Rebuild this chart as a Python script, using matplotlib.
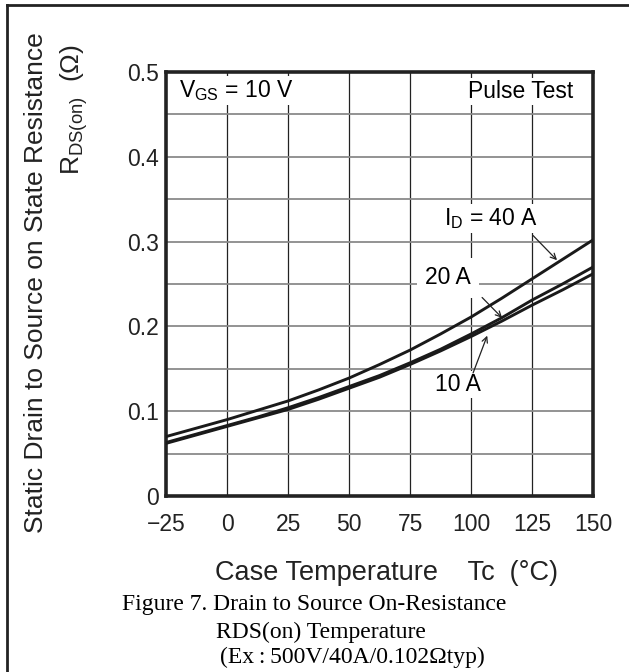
import matplotlib
matplotlib.use('Agg')
import matplotlib.pyplot as plt

plt.rcParams['font.family'] = ['Liberation Sans', 'DejaVu Sans']
plt.rcParams['mathtext.fontset'] = 'custom'
plt.rcParams['mathtext.rm'] = 'Liberation Sans'
plt.rcParams['mathtext.it'] = 'Liberation Sans:italic'

# Data (case temperature in degC, RDS(on) in ohm)
temp = [-25, -12.5, 0, 12.5, 25, 37.5, 50, 62.5, 75, 87.5, 100, 112.5, 125, 137.5, 150]
rds_40a = [0.070, 0.080, 0.090, 0.101, 0.112, 0.125, 0.139, 0.155, 0.172, 0.191,
           0.211, 0.233, 0.256, 0.279, 0.302]
rds_20a = [0.063, 0.073, 0.083, 0.093, 0.104, 0.116, 0.129, 0.142, 0.157, 0.173,
           0.191, 0.210, 0.231, 0.250, 0.270]
rds_10a = [0.062, 0.072, 0.082, 0.092, 0.102, 0.114, 0.127, 0.140, 0.155, 0.171,
           0.188, 0.206, 0.225, 0.243, 0.262]

x_ticks = [-25, 0, 25, 50, 75, 100, 125, 150]
y_ticks = [0, 0.1, 0.2, 0.3, 0.4, 0.5]
y_tick_labels = ['0', '0.1', '0.2', '0.3', '0.4', '0.5']

fig = plt.figure(figsize=(6.29, 6.72), dpi=100)

# outer frame (left and top edges only, as in the cropped datasheet)
fig.add_artist(plt.Line2D([0.011, 0.011], [0, 0.993], color='#222222', lw=2.0, transform=fig.transFigure))
fig.add_artist(plt.Line2D([0.011, 1.0], [0.993, 0.993], color='#222222', lw=2.0, transform=fig.transFigure))

ax = fig.add_axes([0.264, 0.262, 0.679, 0.631])
ax.set_xlim(-25, 150)
ax.set_ylim(0, 0.5)

# grid: dark vertical lines, lighter horizontal lines every 0.05
for xv in x_ticks[1:-1]:
    ax.axvline(xv, color='#222222', lw=0.9, zorder=1)
for k in range(1, 10):
    ax.axhline(k * 0.05, color='#8a8a8a', lw=1.3, zorder=1)

for ys in (rds_40a, rds_20a, rds_10a):
    ax.plot(temp, ys, color='#1a1a1a', lw=2.1, zorder=3)

for s in ax.spines.values():
    s.set_linewidth(2.6)
    s.set_color('#222222')

ax.set_xticks(x_ticks)
ax.set_yticks(y_ticks)
ax.set_yticklabels(y_tick_labels)
ax.tick_params(length=0, labelsize=16.5, colors='#222222')
ax.tick_params(axis='y', pad=5)
ax.tick_params(axis='x', pad=12)

fs = 16.5
box = dict(facecolor='white', edgecolor='none', pad=1.5)
ax.text(-19.5, 0.478, r'$\mathregular{V_{GS}}$ = 10 V', fontsize=fs, ha='left', va='center', bbox=box, zorder=4)
ax.text(142, 0.477, 'Pulse Test', fontsize=fs, ha='right', va='center', bbox=box, zorder=4)
ax.text(108.2, 0.327, r'$\mathregular{I_D}$ = 40 A', fontsize=fs, ha='center', va='center', bbox=box, zorder=4)
ax.text(90.6, 0.257, '20 A', fontsize=fs, ha='center', va='center',
        bbox=dict(facecolor='white', edgecolor='none', pad=6), zorder=4)
ax.text(94.7, 0.131, '10 A', fontsize=fs, ha='center', va='center', bbox=box, zorder=4)

arr = dict(arrowstyle='->', color='#222222', lw=0.9, shrinkA=0, shrinkB=0)
ax.annotate('', xy=(135.2, 0.278), xytext=(125.4, 0.307), arrowprops=arr, zorder=5)
ax.annotate('', xy=(112.7, 0.210), xytext=(104.5, 0.234), arrowprops=arr, zorder=5)
ax.annotate('', xy=(106.6, 0.189), xytext=(100.8, 0.145), arrowprops=arr, zorder=5)

# axis labels
fig.text(0.057, 0.579, 'Static Drain to Source on State Resistance', rotation=90,
         fontsize=19, ha='center', va='center', color='#222222')
fig.text(0.118, 0.935, r'$\mathregular{R_{DS(on)}}$  (Ω)', rotation=90,
         fontsize=19, ha='center', va='top', color='#222222')
fig.text(0.614, 0.147, 'Case Temperature    Tc  (°C)', fontsize=19.5, ha='center', va='center', color='#222222')

# caption
cap = dict(fontsize=17, family=['Liberation Serif', 'DejaVu Serif'], ha='left', va='center', color='black')
fig.text(0.194, 0.101, 'Figure 7. Drain to Source On-Resistance', **cap)
fig.text(0.343, 0.059, 'RDS(on) Temperature', **cap)
fig.text(0.350, 0.021, '(Ex\u2009:\u2009500V/40A/0.102Ωtyp)', **cap)

fig.savefig('out.png', dpi=100)
